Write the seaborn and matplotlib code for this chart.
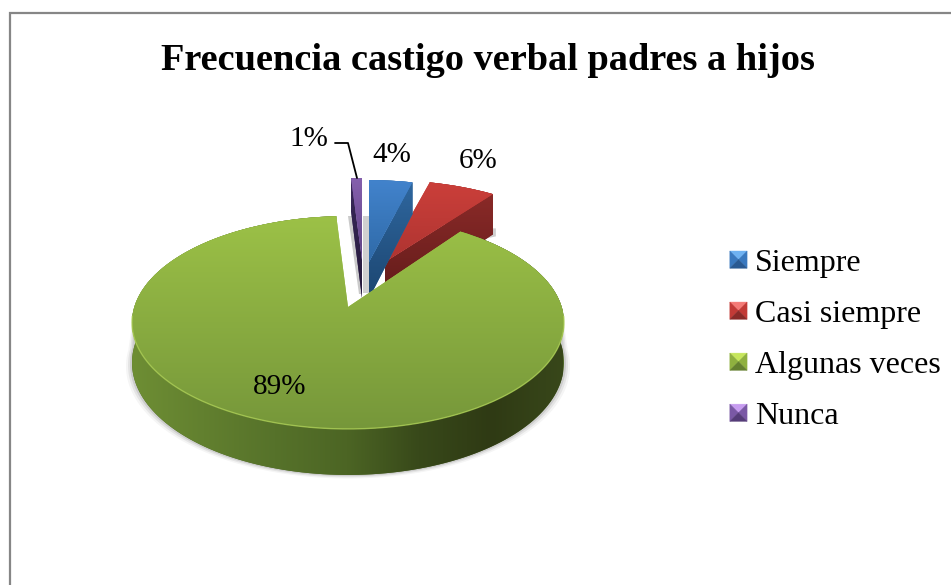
import numpy as np
import matplotlib
matplotlib.use("Agg")
import matplotlib.pyplot as plt
import matplotlib.transforms as mtransforms
from matplotlib.legend_handler import HandlerPatch
from matplotlib.patches import Patch, Polygon
import seaborn as sns

# --- Data ---
TITLE = "Frecuencia castigo verbal padres a hijos"
categories = ["Siempre", "Casi siempre", "Algunas veces", "Nunca"]
percents = [4, 6, 89, 1]

# --- Style ---
W, H = 951, 585
P = 0.1455   # perspective strength
RX, RY = 213.7, 104.2
APEX = [(369, 262), (385, 262), (348, 307), (362, 260)]
SCALE = [(0.93, 0.90), (0.96, 0.90), (1.0, 1.0), (0.93, 0.90)]
DEPTH = [36.5, 45, 39.3, 38]
TOP_COLORS = [["#4283cc", "#2f6aa8"], ["#cb3f3a", "#ae3431"], ["#9cc147", "#76973a"], ["#8560ad", "#5f4385"]]
CUT_COLORS = [["#2f679f", "#1c4671"], ["#8a2a28", "#5e1a19"], ["#4c6524", "#4c6524"], ["#3a2a5c", "#241838"]]
CUT_SIDE = ["end", "end", None, "start"]
SIDE_COLORS = ["#6e8e34", "#62802f", "#56722a", "#4c6524", "#38491a", "#2f3a14", "#38471a"]
SWATCHES = [("#6fb2f2", "#3a79bf", "#2a5a92"), ("#f47a76", "#c23a36", "#8a2a28"),
            ("#c6e65c", "#8fb03f", "#64802f"), ("#c79cf0", "#7a58a5", "#553c78")]

sns.set_theme(style="white")
plt.rcParams["font.family"] = ["Liberation Serif", "DejaVu Serif"]


class DiscToPixels(mtransforms.Transform):
    # unit pie disc -> tilted picture plane
    input_dims = 2
    output_dims = 2
    is_separable = False

    def __init__(self, apex, scale, drop=0.0):
        super().__init__()
        self.apex, self.scale, self.drop = apex, scale, drop

    def transform_non_affine(self, values):
        values = np.asarray(values, dtype=float)
        x, y = values[:, 0], values[:, 1]
        w = 1 + P * y
        px = self.apex[0] + self.scale[0] * RX * x / w
        py = self.apex[1] - self.scale[1] * RY * y / w + self.drop / w
        return np.column_stack([px, py])


def rim(theta1, theta2, n=200):
    t = np.radians(np.linspace(theta1, theta2, n))
    return np.column_stack([np.cos(t), np.sin(t)])


def fill_gradient(ax, patch, colors, box, horizontal=False, z=1):
    cmap = sns.blend_palette(colors, as_cmap=True)
    ramp = np.linspace(0, 1, 256)
    ramp = ramp[None, :] if horizontal else ramp[:, None]
    im = ax.imshow(ramp, cmap=cmap, extent=box, aspect="auto", origin="upper", zorder=z)
    im.set_clip_path(patch)


def face(ax, points, z, **kw):
    poly = Polygon(points, closed=True, lw=0, zorder=z, **kw)
    ax.add_patch(poly)
    return poly


class BevelHandler(HandlerPatch):
    def create_artists(self, legend, orig, xd, yd, width, height, fontsize, trans):
        light, mid, dark = orig.bevel
        s = 12.4
        x0, y0 = -xd + (width - s) / 2, -yd + (height - s) / 2
        c = (x0 + s / 2, y0 + s / 2)
        a, b, d, e = (x0, y0), (x0 + s, y0), (x0 + s, y0 + s), (x0, y0 + s)
        out = []
        for pts, col in [((e, d, c), light), ((a, e, c), mid), ((b, d, c), mid), ((a, b, c), dark)]:
            out.append(Polygon(pts, closed=True, fc=col, ec=col, lw=0.3, transform=trans))
        return out


fig, ax = plt.subplots(figsize=(W / 100, H / 100), dpi=100)
fig.subplots_adjust(0, 0, 1, 1)
fig.patch.set_facecolor("white")

wedges, _ = ax.pie(percents, startangle=90, counterclock=False, frame=True,
                   wedgeprops={"lw": 0})
ax.set_xlim(0, W)
ax.set_ylim(H, 0)
ax.set_axis_off()

# chart frame, cut off by the crop on the right and bottom
ax.plot([10, 10, W], [H, 13, 13], color="#868686", lw=1.6, solid_joinstyle="miter")

# grey shadow showing behind the thin slices
green_top = 216
face(ax, [(APEX[3][0] + 1, green_top), (APEX[0][0], green_top),
          (APEX[0][0], APEX[0][1] + 31), (APEX[3][0] + 1, APEX[0][1] + 31)], 5, fc="#8a8a8a", alpha=0.4)
face(ax, [(APEX[3][0] - 14, green_top), (APEX[3][0] - 9, green_top),
          (APEX[3][0], APEX[3][1] + 34), (APEX[3][0] - 3, APEX[3][1] + 34)], 5, fc="#8a8a8a", alpha=0.45)

# draw order: back pieces first, big green slice last
for i in [1, 3, 0, 2]:
    wedge = wedges[i]
    base = 10 + [1, 3, 0, 2].index(i) * 10
    top = DiscToPixels(APEX[i], SCALE[i])
    low = DiscToPixels(APEX[i], SCALE[i], DEPTH[i])
    arc = rim(wedge.theta1, wedge.theta2)
    edge_top, edge_low = top.transform(arc), low.transform(arc)

    if i == 2:
        # soft shadow under the rim
        for grow, alpha in [(6, 0.06), (4, 0.10), (2, 0.16)]:
            shade = low.transform(rim(180, 360)) + [0, grow * 0.6]
            shade[:, 0] = APEX[i][0] + (shade[:, 0] - APEX[i][0]) * (1 + grow / 216)
            face(ax, np.vstack([top.transform(rim(180, 360)), shade[::-1]]), base - 1,
                 fc="#555555", alpha=alpha)
        band = face(ax, np.vstack([edge_top, edge_low[::-1]]), base, fc=SIDE_COLORS[3])
        fill_gradient(ax, band, SIDE_COLORS, (131, 563, 480, 210), horizontal=True, z=base + 1)
    else:
        corners = np.array([edge_top[0], edge_top[-1]])
        apex_top = top.transform([[0, 0]])[0]
        left, right = min(corners[:, 0].min(), apex_top[0]), max(corners[:, 0].max(), apex_top[0])
        if i == 1:
            # small shadow at the lower right corner of the red slice
            corner = edge_low[0]
            face(ax, [corner + [-6, 4], corner + [3, 2], corner + [3, -6], corner + [0, -6]],
                 base - 1, fc="#777777", alpha=0.35)
        band = face(ax, np.vstack([edge_top, edge_low[::-1]]), base, fc=CUT_COLORS[i][0])
        fill_gradient(ax, band, CUT_COLORS[i], (left, right, 300, 170), z=base + 1)

    if CUT_SIDE[i]:
        end = wedge.theta1 if CUT_SIDE[i] == "end" else wedge.theta2
        p = np.array([[0, 0], [np.cos(np.radians(end)), np.sin(np.radians(end))]])
        pt, pl = top.transform(p), low.transform(p)
        cut = face(ax, [pt[0], pt[1], pl[1], pl[0]], base + 2, fc=CUT_COLORS[i][0])
        ys = np.concatenate([pt[:, 1], pl[:, 1]])
        fill_gradient(ax, cut, CUT_COLORS[i], (pt[:, 0].min() - 1, pt[:, 0].max() + 1, ys.max(), ys.min()),
                      z=base + 3)

    wedge.set_transform(top + ax.transData)
    wedge.set_zorder(base + 4)
    wedge.set_facecolor(TOP_COLORS[i][0])
    wedge.set_clip_on(False)
    ys = edge_top[:, 1]
    xs = edge_top[:, 0]
    box = (min(xs.min(), APEX[i][0]) - 1, max(xs.max(), APEX[i][0]) + 1,
           max(ys.max(), APEX[i][1]), min(ys.min(), APEX[i][1]))
    fill_gradient(ax, wedge, TOP_COLORS[i], box, z=base + 5)

    if i == 2:
        front = top.transform(rim(185, 355))
        ax.plot(front[:, 0], front[:, 1], color="#a9cb55", lw=1.0, alpha=0.8, zorder=base + 6)

# --- Labels ---
label_pos = [(392, 155), (478, 161), (280, 387), (309, 139)]
for v, (x, y) in zip(percents, label_pos):
    ax.text(x, y, f"{v}%", ha="center", va="center", fontsize=21, color="black", zorder=60)
ax.plot([335, 348, 357], [143, 143, 178], color="black", lw=1.3, zorder=60)

ax.text(488, 61, TITLE, ha="center", va="center", fontsize=27.6, fontweight="bold",
        color="black", zorder=60)

# --- Legend ---
handles = []
for name, bevel in zip(categories, SWATCHES):
    h = Patch(label=name)
    h.bevel = bevel
    handles.append(h)
leg = ax.legend(handles=handles, loc="center left", bbox_to_anchor=(730 / W, 1 - 340 / H),
                frameon=False, fontsize=23, labelcolor="black", labelspacing=0.69,
                handlelength=0.53, handleheight=0.53, handletextpad=0.26,
                borderpad=0, borderaxespad=0, handler_map={Patch: BevelHandler()})
leg.set_zorder(60)

fig.savefig("out.png", dpi=100)
